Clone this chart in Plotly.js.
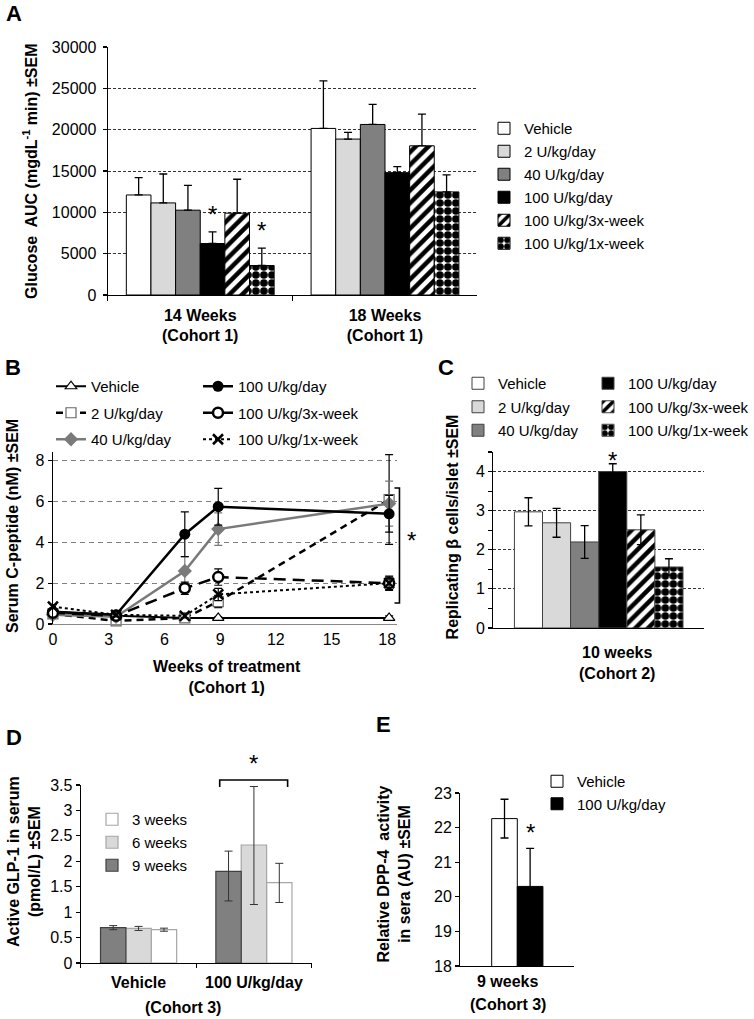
<!DOCTYPE html>
<html>
<head>
<meta charset="utf-8">
<script src="https://cdn.plot.ly/plotly-3.0.1.min.js"></script>
<style>body{margin:0;background:#fff}#chart{width:754px;height:1019px}</style>
</head>
<body>
<div id="chart"></div>
<script>
// dose groups shared by panels A and C
const doseGroups = ['Vehicle', '2 U/kg/day', '40 U/kg/day', '100 U/kg/day', '100 U/kg/3x-week', '100 U/kg/1x-week'];

// A: glucose AUC, one row per dose group, columns = timepoints
const aucTimepoints = ['14 Weeks<br>(Cohort 1)', '18 Weeks<br>(Cohort 1)'];
const aucMean = [[12100, 20150], [11140, 18860], [10260, 20630], [6230, 14800], [9900, 18050], [3570, 12470]];
const aucSem = [[2090, 5750], [3500, 810], [3010, 2420], [1410, 720], [4100, 3830], [2100, 2050]];

// B: serum C-peptide over time
const weeks = [0, 3.4, 7.1, 8.9, 18.1];
const cpepVehicle = [0.6, 0.4, 0.3, 0.3, 0.3];
const cpep2U = [0.5, 0.15, 0.3, 1.1, 6.1];
const cpep40U = [0.45, 0.35, 2.6, 4.65, 5.9];
const cpep100U = [0.6, 0.45, 4.4, 5.75, 5.4];
const cpep3x = [0.55, 0.4, 1.75, 2.3, 2.0];
const cpep1x = [0.85, 0.45, 0.4, 1.45, 2.0];
const semVehicle = [0.1, 0.05, 0.05, 0.05, 0.1];
const sem2U = [0.1, 0.1, 0.1, 0.3, 2.2];
const sem40U = [0.1, 0.1, 0.7, 0.8, 1.1];
const sem100U = [0.1, 0.1, 1.1, 0.9, 0.9];
const sem3x = [0.1, 0.1, 0.3, 0.4, 0.3];
const sem1x = [0.1, 0.1, 0.1, 0.3, 0.35];

// C: replicating beta cells
const repTimepoint = ['10 weeks'];
const repMean = [2.97, 2.69, 2.2, 4.0, 2.51, 1.56];
const repSem = [0.36, 0.37, 0.42, 0.2, 0.38, 0.21];

// D: active GLP-1, rows = 9/6/3 weeks, columns = treatment
const glpGroups = ['Vehicle', '100 U/kg/day'];
const glpWeeks = ['9 weeks', '6 weeks', '3 weeks'];
const glpMean = [[0.695, 1.8], [0.68, 2.32], [0.655, 1.58]];
const glpSemPlus = [[0.04, 0.4], [0.04, 1.15], [0.03, 0.38]];
const glpSemMinus = [[0.04, 0.58], [0.04, 1.17], [0.03, 0.39]];

// E: DPP-4 activity
const dppTimepoint = ['9 weeks'];
const dppGroups = ['Vehicle', '100 U/kg/day'];
const dppMean = [22.26, 20.3];
const dppSem = [0.56, 1.1];

const W = 754, H = 1019;
const px = x => x / W;
const py = y => 1 - y / H;
const FONT = 'Arial, "Liberation Sans", sans-serif';

const doseFill = ['#ffffff', '#d9d9d9', '#808080', '#000000', '#ffffff', '#ffffff'];
const stripes = {shape: '/', fgcolor: '#000', bgcolor: '#fff', size: 9, solidity: 0.5};
const checker = {shape: '.', fgcolor: '#000', bgcolor: '#fff', size: 8, solidity: 0.72};
const dosePattern = [null, null, null, null, stripes, checker];

// side-by-side bars with overlay mode, so every panel keeps its own gap
function slots(n, span) {
    const w = span / n;
    return Array.from({length: n}, (_, i) => ({offset: -span / 2 + i * w, width: w, center: -span / 2 + (i + 0.5) * w}));
}

const traces = [];

// ---- A ----
const slotA = slots(6, 0.8);
doseGroups.forEach((g, i) => {
    const t = {
        type: 'bar', x: aucTimepoints, y: aucMean[i], name: g,
        xaxis: 'x', yaxis: 'y', legend: 'legend', legendgroup: 'a' + i,
        offset: slotA[i].offset, width: slotA[i].width,
        marker: {color: doseFill[i], line: {color: '#000', width: 1}},
        error_y: {type: 'data', symmetric: false, array: aucSem[i], arrayminus: aucSem[i].map(() => 0),
                  color: '#000', thickness: 1.3, width: 4}
    };
    if (dosePattern[i]) t.marker.pattern = dosePattern[i];
    traces.push(t);
});

// ---- B ----
const cpSeries = [
    {name: 'Vehicle', y: cpepVehicle, e: semVehicle, leg: 'legend2',
     line: {color: '#000', width: 2},
     marker: {symbol: 'triangle-up', size: 10, color: '#fff', line: {color: '#000', width: 1.2}}},
    {name: '2 U/kg/day', y: cpep2U, e: sem2U, leg: 'legend2',
     line: {color: '#000', width: 2.5, dash: '7px,5px'},
     marker: {symbol: 'square', size: 10, color: '#fff', line: {color: '#666', width: 1.2}}},
    {name: '40 U/kg/day', y: cpep40U, e: sem40U, leg: 'legend2',
     line: {color: '#7a7a7a', width: 2.5},
     marker: {symbol: 'diamond', size: 11, color: '#7a7a7a', line: {color: '#7a7a7a', width: 0}}},
    {name: '100 U/kg/day', y: cpep100U, e: sem100U, leg: 'legend3',
     line: {color: '#000', width: 2.5},
     marker: {symbol: 'circle', size: 11, color: '#000', line: {color: '#000', width: 0}}},
    {name: '100 U/kg/3x-week', y: cpep3x, e: sem3x, leg: 'legend3',
     line: {color: '#000', width: 2.5, dash: '12px,7px'},
     marker: {symbol: 'circle', size: 10, color: '#fff', line: {color: '#000', width: 2.5}}},
    {name: '100 U/kg/1x-week', y: cpep1x, e: sem1x, leg: 'legend3',
     line: {color: '#000', width: 2, dash: 'dot'},
     marker: {symbol: 'x-thin', size: 10, color: '#000', line: {color: '#000', width: 2.5}}}
];
cpSeries.forEach((s, i) => {
    traces.push({
        type: 'scatter', mode: 'lines+markers', x: weeks, y: s.y, name: s.name,
        xaxis: 'x2', yaxis: 'y2', legend: s.leg, legendgroup: 'b' + i, cliponaxis: false,
        line: s.line, marker: s.marker,
        error_y: {type: 'data', array: s.e, color: s.line.color, thickness: 1.2, width: 4}
    });
});

// ---- C ----
const slotC = slots(6, 0.8);
doseGroups.forEach((g, i) => {
    const t = {
        type: 'bar', x: repTimepoint, y: [repMean[i]], name: g,
        xaxis: 'x3', yaxis: 'y3', legend: i < 3 ? 'legend4' : 'legend5', legendgroup: 'c' + i,
        offset: slotC[i].offset, width: slotC[i].width,
        marker: {color: doseFill[i], line: {color: '#404040', width: 1}},
        error_y: {type: 'data', array: [repSem[i]], color: '#000', thickness: 1.3, width: 4}
    };
    if (dosePattern[i]) t.marker.pattern = dosePattern[i];
    traces.push(t);
});

// ---- D ----  (pushed 3 -> 9 weeks so the legend lists 3 weeks first)
const slotD = slots(3, 0.66);
const glpFill = ['#808080', '#d9d9d9', '#ffffff'];
const glpEdge = ['#404040', '#a6a6a6', '#a6a6a6'];
for (let i = glpWeeks.length - 1; i >= 0; i--) {
    traces.push({
        type: 'bar', x: glpGroups, y: glpMean[i], name: glpWeeks[i],
        xaxis: 'x4', yaxis: 'y4', legend: 'legend6', legendgroup: 'd' + i,
        offset: slotD[i].offset, width: slotD[i].width,
        marker: {color: glpFill[i], line: {color: glpEdge[i], width: 1.2}},
        error_y: {type: 'data', symmetric: false, array: glpSemPlus[i], arrayminus: glpSemMinus[i],
                  color: '#333', thickness: 1, width: 4}
    });
}

// ---- E ----
const slotE = slots(2, 0.45);
const dppFill = ['#ffffff', '#000000'];
dppGroups.forEach((g, i) => {
    traces.push({
        type: 'bar', x: dppTimepoint, y: [dppMean[i]], name: g,
        xaxis: 'x5', yaxis: 'y5', legend: 'legend7', legendgroup: 'e' + i,
        offset: slotE[i].offset, width: slotE[i].width, base: 0,
        marker: {color: dppFill[i], line: {color: '#000', width: 1}},
        error_y: {type: 'data', array: [dppSem[i]], color: '#000', thickness: 1.3, width: 4}
    });
});

const tickFont = size => ({family: FONT, size: size, color: '#000'});
const axBase = {
    showline: true, linecolor: '#000', linewidth: 1.3, ticks: 'outside', ticklen: 4,
    tickcolor: '#000', tickwidth: 1.2, zeroline: false, showgrid: false, fixedrange: true
};

function legendAt(x, y, size, gap) {
    return {
        x: px(x), y: py(y), xanchor: 'left', yanchor: 'top', bgcolor: 'rgba(0,0,0,0)',
        font: {family: FONT, size: size, color: '#000'}, tracegroupgap: gap,
        traceorder: 'grouped', itemclick: false, itemdoubleclick: false
    };
}

const letter = (t, x, y) => ({text: '<b>' + t + '</b>', x: px(x), y: py(y), xref: 'paper', yref: 'paper',
    showarrow: false, font: {family: FONT, size: 22, color: '#000'}, xanchor: 'center', yanchor: 'middle'});
const ytitle = (t, x, y, size) => ({text: '<b>' + t + '</b>', x: px(x), y: py(y), xref: 'paper', yref: 'paper',
    showarrow: false, textangle: -90, font: {family: FONT, size: size || 16, color: '#000'},
    xanchor: 'center', yanchor: 'middle'});
const label = (t, x, y, size) => ({text: '<b>' + t + '</b>', x: px(x), y: py(y), xref: 'paper', yref: 'paper',
    showarrow: false, font: {family: FONT, size: size || 16, color: '#000'}, xanchor: 'center', yanchor: 'middle'});
const star = (xref, yref, x, y, shift) => ({text: '*', x: x, y: y, xref: xref, yref: yref, showarrow: false,
    font: {family: FONT, size: 24, color: '#000'}, xanchor: 'center', yanchor: 'bottom', yshift: shift});

const annotations = [
    letter('A', 14, 14), letter('B', 13, 368), letter('C', 447, 368), letter('D', 14, 737), letter('E', 384, 724),
    ytitle('Glucose\u00a0 AUC (mgdL<sup>-1</sup> min) ±SEM', 30, 171),
    ytitle('Serum C-peptide (nM) ±SEM', 12, 526),
    ytitle('Replicating β cells/islet ±SEM', 453, 527),
    ytitle('Active GLP-1 in serum<br>(pmol/L) ±SEM', 24, 861),
    ytitle('Relative DPP-4\u00a0 activity<br>in sera (AU) ±SEM', 395, 874),
    label('Weeks of treatment<br>(Cohort 1)', 227, 677),
    label('10 weeks<br>(Cohort 2)', 618, 663),
    label('(Cohort 3)', 183, 1007),
    label('9 weeks', 508, 981),
    label('(Cohort 3)', 509, 1004),
    // significance marks
    star('x', 'y', 0 + slotA[3].center, aucMean[3][0] + aucSem[3][0], 2),
    star('x', 'y', 0 + slotA[5].center, aucMean[5][0] + aucSem[5][0], 2),
    star('x3', 'y3', slotC[3].center, repMean[3], -4),
    star('x5', 'y5', slotE[1].center, dppMean[1] + dppSem[1], 0),
    {text: '*', x: px(412), y: py(540), xref: 'paper', yref: 'paper', showarrow: false,
     font: {family: FONT, size: 24, color: '#000'}, xanchor: 'center', yanchor: 'middle'},
    {text: '*', x: px(254), y: py(763), xref: 'paper', yref: 'paper', showarrow: false,
     font: {family: FONT, size: 24, color: '#000'}, xanchor: 'center', yanchor: 'middle'}
];

const bracket = pts => ({
    type: 'path', xref: 'paper', yref: 'paper', line: {color: '#000', width: 1.6},
    path: pts.map((p, i) => (i ? 'L' : 'M') + px(p[0]) + ',' + py(p[1])).join(' ')
});

const layout = {
    width: W, height: H, margin: {l: 0, r: 0, t: 0, b: 0},
    paper_bgcolor: '#fff', plot_bgcolor: 'rgba(0,0,0,0)',
    barmode: 'overlay', font: {family: FONT, color: '#000'},
    xaxis: Object.assign({}, axBase, {domain: [px(108), px(478)], anchor: 'y', type: 'category',
        range: [-0.5, 1.5], tickson: 'boundaries', ticklen: 5, ticklabelstandoff: 5,
        tickfont: Object.assign(tickFont(16), {weight: 'bold'})}),
    yaxis: Object.assign({}, axBase, {domain: [py(295), py(47)], anchor: 'x', range: [0, 30000], dtick: 5000,
        tickformat: 'd', showgrid: true, gridcolor: '#000', griddash: '3px,2px', gridwidth: 0.8,
        tickfont: tickFont(16), ticklabelstandoff: 3}),
    xaxis2: Object.assign({}, axBase, {domain: [px(53), px(398)], anchor: 'y2', range: [0, 18.55],
        tickvals: [0, 3, 6, 9, 12, 15, 18], linecolor: '#888', ticklen: 0, tickfont: tickFont(16)}),
    yaxis2: Object.assign({}, axBase, {domain: [py(624), py(452)], anchor: 'x2', range: [0, 8.43], dtick: 2,
        showgrid: true, gridcolor: '#808080', griddash: '5px,4px', gridwidth: 1.2, tickfont: tickFont(16)}),
    xaxis3: Object.assign({}, axBase, {domain: [px(494), px(705)], anchor: 'y3', type: 'category',
        range: [-0.5, 0.5], ticks: '', showticklabels: false}),
    yaxis3: Object.assign({}, axBase, {domain: [py(628), py(452)], anchor: 'x3', range: [0, 4.5], dtick: 1,
        showgrid: true, gridcolor: '#000', griddash: '3px,2px', gridwidth: 0.8, tickfont: tickFont(16),
        minor: {dtick: 0.5, ticks: 'outside', ticklen: 4, tickcolor: '#000', showgrid: false}}),
    xaxis4: Object.assign({}, axBase, {domain: [px(81), px(312)], anchor: 'y4', type: 'category',
        range: [-0.5, 1.5], tickson: 'boundaries', ticklen: 4, ticklabelstandoff: 4,
        tickfont: Object.assign(tickFont(16), {weight: 'bold'})}),
    yaxis4: Object.assign({}, axBase, {domain: [py(963), py(785)], anchor: 'x4', range: [0, 3.5], dtick: 0.5,
        tickfont: tickFont(16)}),
    xaxis5: Object.assign({}, axBase, {domain: [px(461), px(575)], anchor: 'y5', type: 'category',
        range: [-0.5, 0.5], ticks: '', showticklabels: false}),
    yaxis5: Object.assign({}, axBase, {domain: [py(966), py(793)], anchor: 'x5', range: [18, 23], dtick: 1,
        tickfont: tickFont(16)}),
    legend: legendAt(484, 112, 15, 0.5),
    legend2: legendAt(51, 370, 15, 4),
    legend3: legendAt(198, 370, 15, 4),
    legend4: legendAt(458, 367, 15, 1),
    legend5: legendAt(589, 367, 15, 1),
    legend6: legendAt(92, 803, 15, 0.5),
    legend7: legendAt(537, 765, 15, 0),
    annotations: annotations,
    shapes: [
        bracket([[395, 488], [400, 488], [400, 603], [395, 603]]),
        bracket([[220, 787], [220, 780], [288, 780], [288, 787]])
    ]
};

Plotly.newPlot('chart', traces, layout, {displayModeBar: false, staticPlot: true});
</script>
</body>
</html>
